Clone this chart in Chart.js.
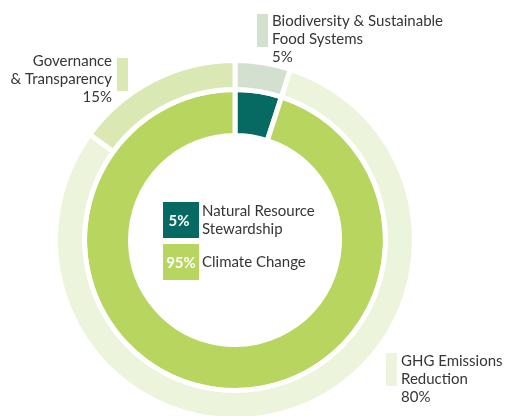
<!DOCTYPE html>
<html>
<head>
<meta charset="utf-8">
<script src="https://cdn.jsdelivr.net/npm/chart.js@4/dist/chart.umd.min.js"></script>
<style>
html,body{margin:0;padding:0;background:#fff;}
#wrap{position:absolute;left:0;top:0;width:505px;height:416px;}
</style>
</head>
<body>
<div id="wrap"><canvas id="c" width="505" height="416"></canvas></div>
<script>
// ---- data ----
const outerLabels = ["Biodiversity & Sustainable Food Systems", "GHG Emissions Reduction", "Governance & Transparency"];
const outerValues = [5, 80, 15];
const outerColors = ["#d3e0d0", "#ecf4dc", "#dae8b3"];
const innerLabels = ["Natural Resource Stewardship", "Climate Change"];
const innerValues = [5, 95];
const innerColors = ["#066a63", "#b8d55f"];

const TEXT = "#363636";
const FONT = "Lato, 'Open Sans', sans-serif";

const labelPlugin = {
  id: 'labels',
  afterDraw(chart) {
    const ctx = chart.ctx;
    ctx.save();
    ctx.textBaseline = 'alphabetic';
    const lh = 18;
    function block(lines, x, y, align) {
      ctx.fillStyle = TEXT;
      ctx.font = "15px " + FONT;
      ctx.textAlign = align;
      lines.forEach((l, i) => ctx.fillText(l, x, y + i * lh));
    }
    // Biodiversity (top right)
    ctx.fillStyle = outerColors[0];
    ctx.fillRect(257, 14, 11, 33);
    block(["Biodiversity & Sustainable", "Food Systems", outerValues[0] + "%"], 272, 26, 'left');
    // Governance (top left)
    ctx.fillStyle = outerColors[2];
    ctx.fillRect(117, 58, 11, 33);
    block(["Governance", "& Transparency", outerValues[2] + "%"], 112, 66, 'right');
    // GHG (bottom right)
    ctx.fillStyle = outerColors[1];
    ctx.fillRect(386, 353, 11, 33);
    block(["GHG Emissions", "Reduction", outerValues[1] + "%"], 401, 366, 'left');

    // Center legend
    ctx.fillStyle = innerColors[0];
    ctx.fillRect(163, 202, 36, 36);
    ctx.fillStyle = innerColors[1];
    ctx.fillRect(163, 244, 36, 36);
    ctx.fillStyle = "#ffffff";
    ctx.font = "bold 15px " + FONT;
    ctx.textAlign = 'center';
    ctx.fillText(innerValues[0] + "%", 179, 226);
    ctx.fillText(innerValues[1] + "%", 181, 268);
    block(["Natural Resource", "Stewardship"], 202, 216, 'left');
    block(["Climate Change"], 202, 267, 'left');
    ctx.restore();
  }
};

new Chart(document.getElementById('c'), {
  type: 'doughnut',
  data: {
    labels: outerLabels,
    datasets: [
      {
        data: outerValues,
        backgroundColor: outerColors,
        borderColor: '#ffffff',
        borderWidth: 5,
        weight: 29
      },
      {
        labels: innerLabels,
        data: innerValues,
        backgroundColor: innerColors,
        borderColor: '#ffffff',
        borderWidth: 5,
        weight: 46
      }
    ]
  },
  options: {
    responsive: false,
    animation: false,
    radius: 179.5,
    cutout: '58.2%',
    layout: { padding: { left: 0, right: 35, top: 64, bottom: 0 } },
    plugins: { legend: { display: false }, tooltip: { enabled: false } }
  },
  plugins: [labelPlugin]
});
</script>
</body>
</html>
